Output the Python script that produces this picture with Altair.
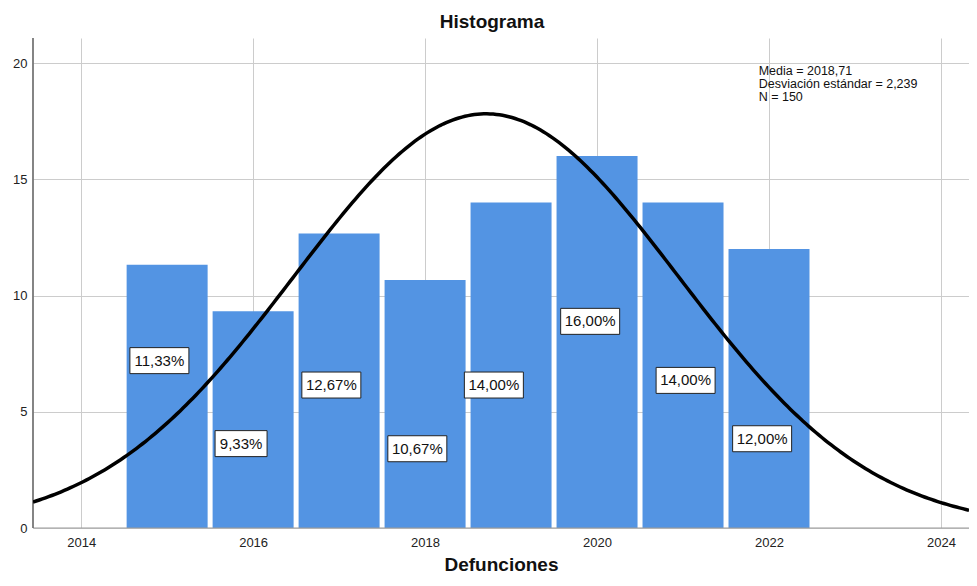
import altair as alt
import numpy as np
import pandas as pd

# ---- data ----
years = [2015, 2016, 2017, 2018, 2019, 2020, 2021, 2022]
percents = [11.33, 9.33, 12.67, 10.67, 14.00, 16.00, 14.00, 12.00]
labels = ["11,33%", "9,33%", "12,67%", "10,67%", "14,00%", "16,00%", "14,00%", "12,00%"]
label_x = [2014.91, 2015.86, 2016.91, 2017.91, 2018.80, 2019.92, 2021.03, 2021.92]
label_y = [7.20, 3.63, 6.15, 3.41, 6.15, 8.89, 6.35, 3.84]
MEAN = 2018.71
SD = 2.239
N = 150
stats_lines = ["Media = 2018,71", "Desviación estándar = 2,239", "N = 150"]
x_ticks = [2014, 2016, 2018, 2020, 2022, 2024]
y_ticks = [0, 5, 10, 15, 20]
X_DOMAIN = [2013.44, 2024.326]
Y_DOMAIN = [0, 21.08]
BIN_WIDTH = 1.0
BAR_GAP = 0.029

FONT = "Liberation Sans"
BAR_COLOR = "#5394e3"

bars = pd.DataFrame({
    "year": years,
    "pct": percents,
    "lo": [y - BIN_WIDTH / 2 + BAR_GAP for y in years],
    "hi": [y + BIN_WIDTH / 2 - BAR_GAP for y in years],
})
labs = pd.DataFrame({"lx": label_x, "ly": label_y, "label": labels})

# normal curve from the stated mean and standard deviation (scaled to percent)
xs = np.linspace(X_DOMAIN[0], X_DOMAIN[1], 300)
curve = pd.DataFrame({
    "x": xs,
    "y": 100 * BIN_WIDTH * np.exp(-0.5 * ((xs - MEAN) / SD) ** 2) / (SD * np.sqrt(2 * np.pi)),
})

xscale = alt.Scale(domain=X_DOMAIN, nice=False, zero=False)
yscale = alt.Scale(domain=Y_DOMAIN, nice=False)

x_axis = alt.Axis(values=x_ticks, format="d", grid=True, ticks=False, domain=False,
                  labelFont=FONT, labelFontSize=13, labelColor="#222222", labelPadding=8,
                  gridColor="#cccccc", gridWidth=1,
                  title="Defunciones", titleFont=FONT, titleFontSize=19,
                  titleFontWeight="bold", titleColor="#111111", titlePadding=6)
y_axis = alt.Axis(values=y_ticks, grid=True, ticks=False, domain=False,
                  labelFont=FONT, labelFontSize=13, labelColor="#222222", labelPadding=6,
                  gridColor="#cccccc", gridWidth=1, title=None)

bar_layer = alt.Chart(bars).mark_rect(color=BAR_COLOR).encode(
    x=alt.X("lo:Q", scale=xscale, axis=x_axis),
    x2="hi:Q",
    y=alt.Y("pct:Q", scale=yscale, axis=y_axis),
    y2=alt.datum(0),
)

base_df = pd.DataFrame({"v": y_ticks[:1]})
bottom_line = alt.Chart(base_df).mark_rule(color="#999999", strokeWidth=1.2).encode(
    y=alt.Y("v:Q", scale=yscale)
)
left_line = alt.Chart(base_df).mark_rule(color="#666666", strokeWidth=1.6).encode(
    x=alt.value(0)
)

curve_layer = alt.Chart(curve).mark_line(color="black", strokeWidth=3.5, clip=True).encode(
    x=alt.X("x:Q", scale=xscale), y=alt.Y("y:Q", scale=yscale)
)

box6 = alt.Chart(labs).transform_filter("length(datum.label) == 6").mark_rect(
    width=59, height=26, fill="white", stroke="#222222", strokeWidth=1
).encode(x=alt.X("lx:Q", scale=xscale), y=alt.Y("ly:Q", scale=yscale))
box5 = alt.Chart(labs).transform_filter("length(datum.label) == 5").mark_rect(
    width=52, height=26, fill="white", stroke="#222222", strokeWidth=1
).encode(x=alt.X("lx:Q", scale=xscale), y=alt.Y("ly:Q", scale=yscale))
lab_text = alt.Chart(labs).mark_text(font=FONT, fontSize=15, color="#111111").encode(
    x=alt.X("lx:Q", scale=xscale), y=alt.Y("ly:Q", scale=yscale), text="label:N"
)

stats_df = pd.DataFrame({"n": [N]})
stats = alt.Chart(stats_df).mark_text(
    font=FONT, fontSize=12.5, lineHeight=13, align="left", baseline="top", color="#111111"
).encode(
    x=alt.X(datum=2021.88, scale=xscale),
    y=alt.Y(datum=19.92, scale=yscale),
    text=alt.value(stats_lines),
)

chart = alt.layer(
    bar_layer, bottom_line, left_line, curve_layer, box6, box5, lab_text, stats
).properties(
    width=936, height=490,
    autosize=alt.AutoSizeParams(type="none"),
    padding={"left": 25, "top": 30, "right": 0, "bottom": 50},
    title=alt.TitleParams("Histograma", font=FONT, fontSize=19, fontWeight="bold",
                          color="#111111", anchor="middle", dx=-9, offset=5),
).configure_view(stroke=None)

chart.save("out.html", embed_options={"renderer": "svg", "actions": False})
